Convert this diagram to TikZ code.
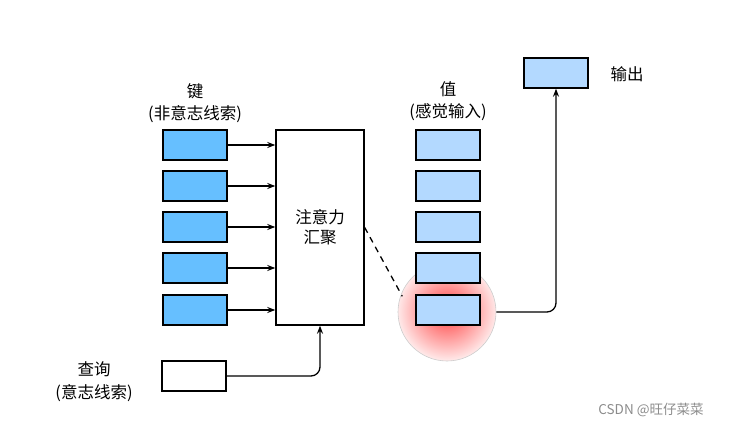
\documentclass[tikz,border=0pt]{standalone}
\usepackage{fontspec}
\setmainfont{Noto Sans CJK SC}
\usetikzlibrary{arrows.meta}
\definecolor{keyblue}{HTML}{66BFFF}
\definecolor{valblue}{HTML}{B3D9FF}
\tikzset{
  box/.style={draw, line width=1.4pt, minimum width=64pt, minimum height=30pt, inner sep=0pt},
  keybox/.style={box, fill=keyblue},
  valbox/.style={box, fill=valblue},
  conn/.style={line width=1.3pt}
}
\begin{document}
\begin{tikzpicture}[x=1pt, y=-1pt, font=\fontsize{16.5}{20}\selectfont,
  >={Stealth[length=8pt, width=6pt]}]
\useasboundingbox (0,0) rectangle (736,430);
% red glow behind the chosen value
\begin{scope}
\clip (447,312) circle (49pt);
\shade[inner color=red!75, outer color=red!5] (447,311) circle (52pt);
\end{scope}
\node[circle, draw=black!20, line width=0.6pt, minimum size=98pt, inner sep=0pt] (glow) at (447,312) {};
\foreach \i/\y in {1/145,2/186,3/227,4/268,5/310} {
  \node[keybox] (k\i) at (195,\y) {};
  \node[valbox] (v\i) at (448,\y) {};
}
\node at (195,91) (keyname) {键};
\node at (195,114) (keynote) {(非意志线索)};
\node at (448,89) (valname) {值};
\node at (448,112) (valnote) {(感觉输入)};
\node[draw, line width=1.4pt, minimum width=88pt, minimum height=195pt, align=center] (att) at (320,227.5) {注意力\\汇聚};
\node[box, fill=white] (q) at (194,376) {};
\node at (94,369) (qname) {查询};
\node at (94,393) (qnote) {(意志线索)};
\node[valbox] (out) at (556,73) {};
\node at (627,74) (outname) {输出};
\foreach \i in {1,...,5}
  \draw[conn, ->] (k\i.east) -- (k\i.east -| att.west);
\draw[conn, ->, rounded corners=9pt] (q.east) -| (att.south);
\draw[conn, dash pattern=on 6pt off 5pt] (att.east) -- ([xshift=-13pt, yshift=-2pt]v5.north west);
\draw[conn, ->, rounded corners=9pt] (glow.east) -| (out.south);
\node[text=black!45, font=\fontsize{13.5}{16}\selectfont] (mark) at (651,410) {CSDN @旺仔菜菜};
\end{tikzpicture}
\end{document}
